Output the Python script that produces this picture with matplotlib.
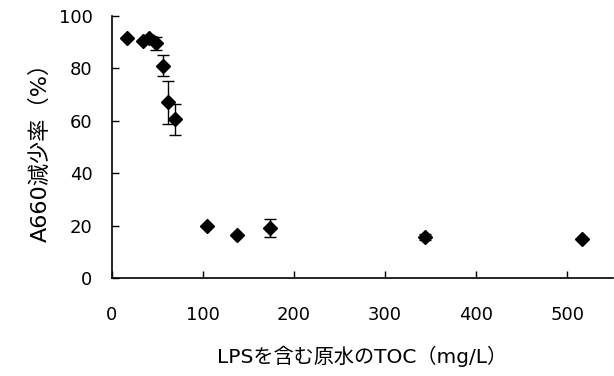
import matplotlib
matplotlib.use("Agg")
import matplotlib.pyplot as plt

# Latin from DejaVu (wide, like the original), Japanese from Noto CJK
plt.rcParams['font.family'] = ['DejaVu Sans', 'Noto Sans CJK JP']

# Data
toc = [17, 34, 41, 48, 56, 62, 69, 104, 137, 173, 344, 516]
reduction = [91.5, 90.5, 91.5, 89.5, 81, 67, 60.5, 20, 16.3, 19, 15.6, 15]
err = [0, 0, 1, 2.5, 4, 8.3, 6, 0, 0, 3.5, 1, 0]

fig = plt.figure(figsize=(6.14, 3.76), dpi=100)
ax = fig.add_axes([0.1824, 0.2606, 0.8156, 0.6974])

ax.errorbar(toc, reduction, yerr=err, fmt='D', color='black', markersize=7.5,
            ecolor='black', elinewidth=1, capsize=4, capthick=1)

ax.set_xlim(0, 550)
ax.set_ylim(0, 100)
ax.set_xticks([0, 100, 200, 300, 400, 500])
ax.set_yticks([0, 20, 40, 60, 80, 100])
ax.tick_params(direction='in', length=5, width=1, labelsize=13)
ax.tick_params(axis='x', pad=20)
ax.tick_params(axis='y', pad=14)
ax.spines['top'].set_visible(False)
ax.spines['right'].set_visible(False)
ax.spines['left'].set_linewidth(1.2)
ax.spines['bottom'].set_linewidth(1.2)

ax.set_xlabel('LPSを含む原水のTOC（mg/L）', fontsize=14.5, labelpad=16)
ax.set_ylabel('A660減少率（%）', fontsize=16, labelpad=6)

plt.savefig('out.png', dpi=100)
